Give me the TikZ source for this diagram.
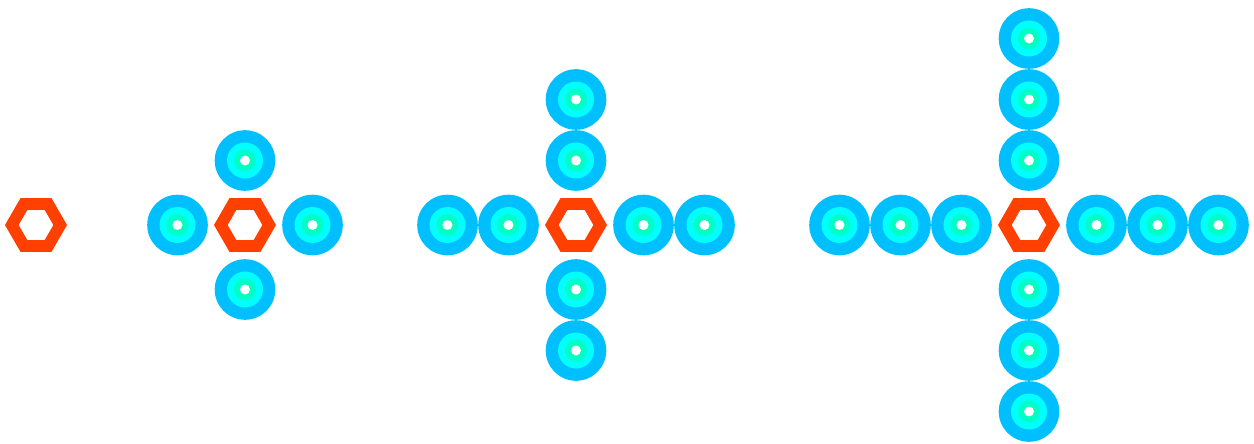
\documentclass[tikz,border=0pt]{standalone}
\usepackage{tikz}
\usetikzlibrary{shapes.geometric, positioning}
\definecolor{nutred}{HTML}{FF4000}
\definecolor{beadblue}{HTML}{00BFFF}
\definecolor{beadcyan}{HTML}{00FFFF}
\definecolor{beadgreen}{HTML}{00FFC4}
\tikzset{
  %% Hexagonal centre piece
  hexnut/.style={
    regular polygon, regular polygon sides=6,
    draw=nutred, fill=white, line width=5.9pt, line join=miter,
    minimum size=24.2pt, inner sep=0pt, outer sep=0pt
  },
  %% Ringed bead
  bead/.style={
    circle, fill=beadblue, minimum size=30.3pt,
    inner sep=0pt, outer sep=0pt,
    path picture={
      \fill[beadcyan] (path picture bounding box.center) circle (9pt);
      \fill[beadgreen] (path picture bounding box.center) circle (5.5pt);
      \fill[white] (path picture bounding box.center) circle (2.5pt);
    }
  },
}
\begin{document}
\begin{tikzpicture}[x=0.5pt, y=-0.5pt, on grid]
  \useasboundingbox (0,0) rectangle (1254,444);

  %% Group 1
  \node[hexnut] (h1) at (36,225) {};

  %% Group 2
  \node[hexnut] (h2) at (245,225) {};
  \node[bead, left=33.75pt of h2]  (g2w1) {};
  \node[bead, right=33.75pt of h2] (g2e1) {};
  \node[bead, above=32.25pt of h2] (g2n1) {};
  \node[bead, below=32.25pt of h2] (g2s1) {};

  %% Group 3
  \node[hexnut] (h3) at (576,225) {};
  \node[bead, left=33.75pt of h3]    (g3w1) {};
  \node[bead, left=30.5pt of g3w1]   (g3w2) {};
  \node[bead, right=33.75pt of h3]   (g3e1) {};
  \node[bead, right=30.5pt of g3e1]  (g3e2) {};
  \node[bead, above=32.25pt of h3]   (g3n1) {};
  \node[bead, above=30.5pt of g3n1]  (g3n2) {};
  \node[bead, below=32.25pt of h3]   (g3s1) {};
  \node[bead, below=30.5pt of g3s1]  (g3s2) {};

  %% Group 4
  \node[hexnut] (h4) at (1029,225) {};
  \node[bead, left=33.75pt of h4]    (g4w1) {};
  \node[bead, left=30.5pt of g4w1]   (g4w2) {};
  \node[bead, left=30.5pt of g4w2]   (g4w3) {};
  \node[bead, right=33.75pt of h4]   (g4e1) {};
  \node[bead, right=30.5pt of g4e1]  (g4e2) {};
  \node[bead, right=30.5pt of g4e2]  (g4e3) {};
  \node[bead, above=32.25pt of h4]   (g4n1) {};
  \node[bead, above=30.5pt of g4n1]  (g4n2) {};
  \node[bead, above=30.5pt of g4n2]  (g4n3) {};
  \node[bead, below=32.25pt of h4]   (g4s1) {};
  \node[bead, below=30.5pt of g4s1]  (g4s2) {};
  \node[bead, below=30.5pt of g4s2]  (g4s3) {};

\end{tikzpicture}
\end{document}
